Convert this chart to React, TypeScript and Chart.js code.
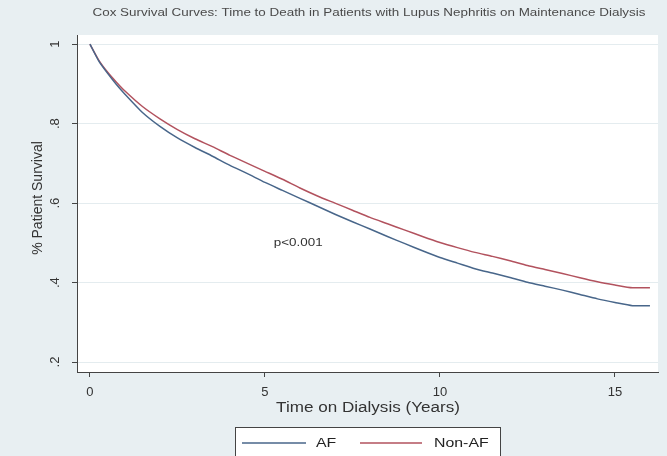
import React, { useEffect, useRef } from 'react';
import { Chart, registerables } from 'chart.js';

Chart.register(...registerables);

const chartTitle = 'Cox Survival Curves: Time to Death in Patients with Lupus Nephritis on Maintenance Dialysis';
const xTitle = 'Time on Dialysis (Years)';
const yTitle = '% Patient Survival';
const pValueText = 'p<0.001';
const pValueAt = [5.95, 0.5];

const seriesNames = ['AF', 'Non-AF'];
const years = [0, 0.25, 0.5, 0.75, 1, 1.5, 2, 2.5, 3, 3.5, 4, 4.5, 5, 5.5, 6, 6.5, 7, 7.5, 8, 8.5, 9, 9.5, 10, 10.5, 11, 11.5, 12, 12.5, 13, 13.5, 14, 14.5, 15, 15.5, 16];
const afSurvival = [1.0, 0.958, 0.927, 0.899, 0.874, 0.828, 0.793, 0.764, 0.74, 0.718, 0.695, 0.674, 0.652, 0.632, 0.612, 0.592, 0.572, 0.553, 0.535, 0.516, 0.498, 0.48, 0.463, 0.449, 0.435, 0.424, 0.413, 0.401, 0.391, 0.381, 0.37, 0.359, 0.35, 0.342, 0.342];
const nonAfSurvival = [1.0, 0.96, 0.93, 0.905, 0.882, 0.843, 0.812, 0.785, 0.762, 0.742, 0.72, 0.7, 0.68, 0.66, 0.638, 0.618, 0.6, 0.582, 0.564, 0.548, 0.532, 0.516, 0.501, 0.488, 0.476, 0.466, 0.455, 0.443, 0.433, 0.423, 0.412, 0.402, 0.394, 0.387, 0.387];

const xTicks = [0, 5, 10, 15];
const yTicks = [0.2, 0.4, 0.6, 0.8, 1];
const yTickLabels = ['.2', '.4', '.6', '.8', '1'];

const BG = '#e8eff2';
const AF_COLOR = 'rgb(72,102,138)';
const NONAF_COLOR = 'rgb(178,82,94)';
const FONT = '"Liberation Sans", Arial, sans-serif';
const STRETCH = 1.22;

function stretchedText(ctx: CanvasRenderingContext2D, text: string, x: number, y: number) {
  ctx.save();
  ctx.translate(x, y);
  ctx.scale(STRETCH, 1);
  ctx.fillText(text, 0, 0);
  ctx.restore();
}

export default function App() {
  const ref = useRef<HTMLCanvasElement>(null);

  useEffect(() => {
    document.body.style.margin = '0';
    const canvas = ref.current!;
    const decor = {
      id: 'decor',
      beforeDraw(chart: any) {
        const { ctx, chartArea: a } = chart;
        ctx.save();
        ctx.fillStyle = BG;
        ctx.fillRect(0, 0, chart.width, chart.height);
        ctx.fillStyle = '#ffffff';
        ctx.fillRect(a.left, a.top, a.right - a.left, a.bottom - a.top);
        ctx.restore();
      },
      afterDraw(chart: any) {
        const { ctx, chartArea: a, scales } = chart;
        ctx.save();
        ctx.textAlign = 'center';
        ctx.textBaseline = 'middle';
        // title
        ctx.fillStyle = '#4a4a4a';
        ctx.font = `11px ${FONT}`;
        stretchedText(ctx, chartTitle, 369, 13);
        // x title
        ctx.fillStyle = '#333';
        ctx.font = `14px ${FONT}`;
        stretchedText(ctx, xTitle, 368, 408);
        // y title
        ctx.save();
        ctx.translate(38, 198);
        ctx.rotate(-Math.PI / 2);
        ctx.fillText(yTitle, 0, 0);
        ctx.restore();
        // p value
        ctx.font = `11px ${FONT}`;
        stretchedText(ctx, pValueText, scales.x.getPixelForValue(pValueAt[0]), scales.y.getPixelForValue(pValueAt[1]));
        // legend
        ctx.fillStyle = '#ffffff';
        ctx.fillRect(235, 427, 265, 40);
        ctx.strokeStyle = '#444';
        ctx.lineWidth = 1;
        ctx.strokeRect(235.5, 427.5, 265, 40);
        const ly = 443;
        ctx.lineWidth = 1.5;
        ctx.strokeStyle = AF_COLOR;
        ctx.beginPath(); ctx.moveTo(242, ly); ctx.lineTo(306, ly); ctx.stroke();
        ctx.strokeStyle = NONAF_COLOR;
        ctx.beginPath(); ctx.moveTo(360, ly); ctx.lineTo(422, ly); ctx.stroke();
        ctx.fillStyle = '#222';
        ctx.font = `13px ${FONT}`;
        ctx.textAlign = 'left';
        stretchedText(ctx, seriesNames[0], 316, ly);
        stretchedText(ctx, seriesNames[1], 434, ly);
        ctx.restore();
      },
    };

    const chart = new Chart(canvas, {
      type: 'line',
      data: {
        datasets: [
          {
            label: seriesNames[0],
            data: years.map((t, i) => ({ x: t, y: afSurvival[i] })),
            borderColor: AF_COLOR,
            borderWidth: 1.5,
            pointRadius: 0,
            tension: 0.2,
            fill: false,
          },
          {
            label: seriesNames[1],
            data: years.map((t, i) => ({ x: t, y: nonAfSurvival[i] })),
            borderColor: NONAF_COLOR,
            borderWidth: 1.5,
            pointRadius: 0,
            tension: 0.2,
            fill: false,
          },
        ],
      },
      options: {
        responsive: false,
        animation: false,
        layout: { padding: { top: 35, right: 9, left: 0, bottom: 0 } },
        plugins: { legend: { display: false }, title: { display: false }, tooltip: { enabled: false } },
        scales: {
          x: {
            type: 'linear',
            min: -0.37,
            max: 16.23,
            afterBuildTicks: (s: any) => { s.ticks = xTicks.map((v) => ({ value: v })); },
            afterFit: (s: any) => { s.height = 84; },
            grid: { drawOnChartArea: false, tickLength: 5, color: '#444', tickColor: '#444' },
            border: { color: '#444', width: 1 },
            ticks: { padding: 8, color: '#333', font: { size: 13, family: FONT }, maxRotation: 0, autoSkip: false },
          },
          y: {
            type: 'linear',
            min: 0.175,
            max: 1.023,
            afterBuildTicks: (s: any) => { s.ticks = yTicks.map((v) => ({ value: v })); },
            afterFit: (s: any) => { s.width = 77; },
            grid: { color: '#e4ecef', tickLength: 5, tickColor: '#444' },
            border: { color: '#444', width: 1 },
            ticks: {
              padding: 11,
              color: '#333',
              font: { size: 13, family: FONT },
              minRotation: 90,
              maxRotation: 90,
              crossAlign: 'center',
              autoSkip: false,
              callback: (v: any) => {
                const i = yTicks.findIndex((t) => Math.abs(t - v) < 1e-6);
                return i >= 0 ? yTickLabels[i] : '';
              },
            },
          },
        },
      },
      plugins: [decor],
    } as any);
    return () => chart.destroy();
  }, []);

  return (
    <div style={{ position: 'fixed', left: 0, top: 0, width: 667, height: 456 }}>
      <canvas ref={ref} width={667} height={456} />
    </div>
  );
}
